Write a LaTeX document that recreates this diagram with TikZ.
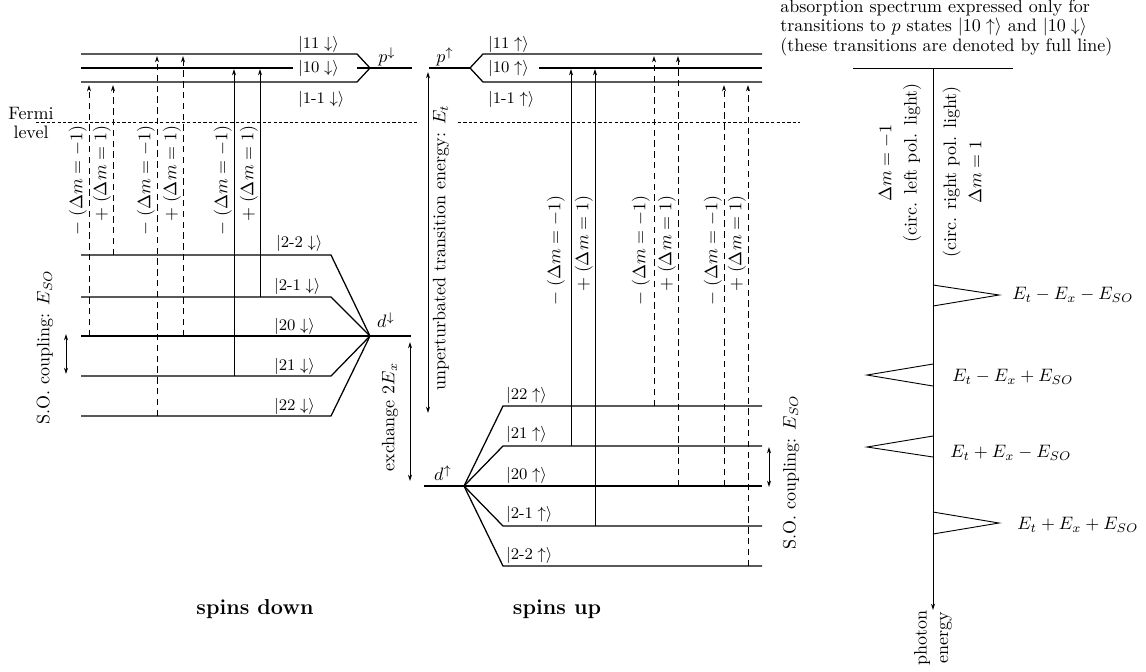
\documentclass[tikz,border=0pt]{standalone}
\usetikzlibrary{arrows.meta}
\newcommand{\ketdn}[1]{$|#1\downarrow\rangle$}
\newcommand{\ketup}[1]{$|#1\uparrow\rangle$}
\begin{document}
\begin{tikzpicture}[x=0.5556pt,y=-0.5556pt,
    lvl/.style={line width=0.7pt},
    head/.style={-{Stealth[length=3.5pt,width=2.2pt]}},
    allowed/.style={head,line width=0.5pt},
    forbidden/.style={head,line width=0.5pt,dash pattern=on 3.6pt off 2.4pt},
    twoway/.style={{Stealth[length=3.5pt,width=2.2pt]}-{Stealth[length=3.5pt,width=2.2pt]},line width=0.5pt},
    fermi/.style={line width=0.5pt,dash pattern=on 1.8pt off 1.2pt},
    ket/.style={anchor=west,inner sep=1pt,font=\small},
    dm/.style={rotate=90,anchor=south east,inner sep=1pt},
    peak/.style={line width=0.5pt}]
  \useasboundingbox (0,0) rectangle (1146,671);
  \path
    (81,54) coordinate (pd11l)   (357,54) coordinate (pd11r)
    (81,68) coordinate (pd10l)   (293,68) coordinate (pd10m)
    (357,68) coordinate (pd10r)  (81,82) coordinate (pd1ml)
    (357,82) coordinate (pd1mr)  (370,68) coordinate (pdtip)
    (412,68) coordinate (pdend)
    (429,68) coordinate (puend)  (470,68) coordinate (putip)
    (483,54) coordinate (pu11l)  (762,54) coordinate (pu11r)
    (539,68) coordinate (pu10l)  (762,68) coordinate (pu10r)
    (483,82) coordinate (pu1ml)  (762,82) coordinate (pu1mr);
  \path
    (81,255) coordinate (dd2ml)  (331,255) coordinate (dd2mr)
    (81,297) coordinate (dd1ml)  (331,297) coordinate (dd1mr)
    (81,336) coordinate (dd0l)   (411,336) coordinate (dd0r)
    (81,376) coordinate (dd1l)   (331,376) coordinate (dd1r)
    (81,416) coordinate (dd2l)   (331,416) coordinate (dd2r)
    (370,336) coordinate (ddtip)
    (424,486) coordinate (du0l)  (762,486) coordinate (du0r)
    (464,486) coordinate (dutip)
    (503,406) coordinate (du2l)  (762,406) coordinate (du2r)
    (503,446) coordinate (du1l)  (762,446) coordinate (du1r)
    (503,526) coordinate (du1ml) (762,526) coordinate (du1mr)
    (503,566) coordinate (du2ml) (762,566) coordinate (du2mr);
  \begin{scope}[lvl]
    \draw (pd11l) -- (pd11r) -- (pdtip);
    \draw (pd1ml) -- (pd1mr) -- (pdtip);
    \draw (pd10l) -- (pd10m);
    \draw (pd10r) -- (pdend);
    \draw (puend) -- (putip);
    \draw (putip) -- (pu11l) -- (pu11r);
    \draw (putip) -- (pu1ml) -- (pu1mr);
    \draw (pu10l) -- (pu10r);
    \draw (dd2ml) -- (dd2mr) -- (ddtip);
    \draw (dd1ml) -- (dd1mr) -- (ddtip);
    \draw (dd0l) -- (dd0r);
    \draw (dd1l) -- (dd1r) -- (ddtip);
    \draw (dd2l) -- (dd2r) -- (ddtip);
    \draw (du0l) -- (du0r);
    \draw (dutip) -- (du2l) -- (du2r);
    \draw (dutip) -- (du1l) -- (du1r);
    \draw (dutip) -- (du1ml) -- (du1mr);
    \draw (dutip) -- (du2ml) -- (du2mr);
  \end{scope}
  \node[ket] (kpd11) at (296,44) {\ketdn{11}};
  \node[ket] (kpd10) at (296,68) {\ketdn{10}};
  \node[ket] (kpd1m) at (296,99) {\ketdn{1\mbox{-}1}};
  \node[ket] (kpu11) at (486,44) {\ketup{11}};
  \node[ket] (kpu10) at (486,68) {\ketup{10}};
  \node[ket] (kpu1m) at (486,99) {\ketup{1\mbox{-}1}};
  \node (pd) at (387,57) {$p^{\downarrow}$};
  \node (pu) at (445,57) {$p^{\uparrow}$};
  \node[ket] (kdd2m) at (274,243) {\ketdn{2\mbox{-}2}};
  \node[ket] (kdd1m) at (272,286) {\ketdn{2\mbox{-}1}};
  \node[ket] (kdd0) at (272,326) {\ketdn{20}};
  \node[ket] (kdd1) at (272,366) {\ketdn{21}};
  \node[ket] (kdd2) at (272,406) {\ketdn{22}};
  \node[ket] (kdu2) at (504,395) {\ketup{22}};
  \node[ket] (kdu1) at (504,434) {\ketup{21}};
  \node[ket] (kdu0) at (504,475) {\ketup{20}};
  \node[ket] (kdu1m) at (504,514) {\ketup{2\mbox{-}1}};
  \node[ket] (kdu2m) at (504,555) {\ketup{2\mbox{-}2}};
  \node (dd) at (386,320) {$d^{\downarrow}$};
  \node (du) at (443,473) {$d^{\uparrow}$};
  \path
    (36,122) coordinate (fa)  (418,122) coordinate (fb)
    (458,122) coordinate (fc) (800,122) coordinate (fd);
  \draw[fermi] (fa) -- (fb);
  \draw[fermi] (fc) -- (fd);
  \node[align=center] (fermi) at (31,123) {Fermi\\[-1pt]level};
  \path
    (89,336) coordinate (t1a)  (89,85) coordinate (t1b)
    (113,255) coordinate (t2a) (113,85) coordinate (t2b)
    (157,416) coordinate (t3a) (157,56) coordinate (t3b)
    (183,336) coordinate (t4a) (183,56) coordinate (t4b)
    (234,376) coordinate (t5a) (234,69) coordinate (t5b)
    (260,297) coordinate (t6a) (260,69) coordinate (t6b)
    (571,446) coordinate (t7a) (571,69) coordinate (t7b)
    (595,526) coordinate (t8a) (595,69) coordinate (t8b)
    (654,406) coordinate (t9a) (654,56) coordinate (t9b)
    (678,486) coordinate (t10a) (678,56) coordinate (t10b)
    (724,486) coordinate (t11a) (724,85) coordinate (t11b)
    (748,566) coordinate (t12a) (748,85) coordinate (t12b);
  \draw[forbidden] (t1a) -- (t1b);
  \draw[forbidden] (t2a) -- (t2b);
  \draw[forbidden] (t3a) -- (t3b);
  \draw[forbidden] (t4a) -- (t4b);
  \draw[allowed] (t5a) -- (t5b);
  \draw[allowed] (t6a) -- (t6b);
  \draw[allowed] (t7a) -- (t7b);
  \draw[allowed] (t8a) -- (t8b);
  \draw[forbidden] (t9a) -- (t9b);
  \draw[forbidden] (t10a) -- (t10b);
  \draw[forbidden] (t11a) -- (t11b);
  \draw[forbidden] (t12a) -- (t12b);
  \node[dm] (l1) at (89,123) {$-\;(\Delta m=-1)$};
  \node[dm] (l2) at (113,123) {$+\;(\Delta m=1)$};
  \node[dm] (l3) at (157,123) {$-\;(\Delta m=-1)$};
  \node[dm] (l4) at (183,123) {$+\;(\Delta m=1)$};
  \node[dm] (l5) at (234,123) {$-\;(\Delta m=-1)$};
  \node[dm] (l6) at (260,123) {$+\;(\Delta m=1)$};
  \node[dm] (l7) at (567,193) {$-\;(\Delta m=-1)$};
  \node[dm] (l8) at (595,193) {$+\;(\Delta m=1)$};
  \node[dm] (l9) at (652,193) {$-\;(\Delta m=-1)$};
  \node[dm] (l10) at (678,193) {$+\;(\Delta m=1)$};
  \node[dm] (l11) at (724,193) {$-\;(\Delta m=-1)$};
  \node[dm] (l12) at (748,193) {$+\;(\Delta m=1)$};
  \path
    (66,334) coordinate (so1a)  (66,374) coordinate (so1b)
    (769,447) coordinate (so2a) (769,487) coordinate (so2b)
    (410,342) coordinate (exa)  (410,481) coordinate (exb)
    (428,72) coordinate (eta)   (428,413) coordinate (etb);
  \draw[twoway] (so1a) -- (so1b);
  \draw[twoway] (so2a) -- (so2b);
  \draw[twoway] (exa) -- (exb);
  \draw[twoway] (eta) -- (etb);
  \node[rotate=90] (so1) at (45,347) {S.O. coupling: $E_{SO}$};
  \node[rotate=90] (so2) at (791,472) {S.O. coupling: $E_{SO}$};
  \node[rotate=90] (ex) at (390,417) {exchange $2E_x$};
  \node[rotate=90] (et) at (441,248) {unperturbated transition energy: $E_t$};
  \node[anchor=north west,align=left,inner sep=0pt,font=\fontsize{10}{11}\selectfont] (title) at (780,-1)
    {absorption spectrum expressed only for\\
     transitions to $p$ states \ketup{10} and \ketdn{10}\\
     (these transitions are denoted by full line)};
  \path
    (853,68) coordinate (axl) (1013,68) coordinate (axr)
    (933,68) coordinate (axtop) (933,610) coordinate (axbot);
  \draw[line width=0.5pt] (axl) -- (axr);
  \draw[allowed] (axtop) -- (axbot);
  \node[rotate=90,align=center] (left) at (900,163) {$\Delta m=-1$\\[2pt](circ. left pol. light)};
  \node[rotate=90,align=center] (right) at (962,172) {(circ. right pol. light)\\[2pt]$\Delta m=1$};
  \node[rotate=90,align=center] (photon) at (933,638) {photon\\energy};
  \draw[peak] (933,285) -- (999,295) -- (933,306);
  \draw[peak] (933,364) -- (867,375) -- (933,386);
  \draw[peak] (933,436) -- (867,447) -- (933,457);
  \draw[peak] (933,512) -- (999,523) -- (933,534);
  \node[anchor=west,inner sep=0pt] (e1) at (1012,295) {$E_t-E_x-E_{SO}$};
  \node[anchor=west,inner sep=0pt] (e2) at (952,377) {$E_t-E_x+E_{SO}$};
  \node[anchor=west,inner sep=0pt] (e3) at (950,453) {$E_t+E_x-E_{SO}$};
  \node[anchor=west,inner sep=0pt] (e4) at (1017,525) {$E_t+E_x+E_{SO}$};
  \node[font=\large\bfseries] (down) at (255,609) {spins down};
  \node[font=\large\bfseries] (up) at (557,609) {spins up};
\end{tikzpicture}
\end{document}
